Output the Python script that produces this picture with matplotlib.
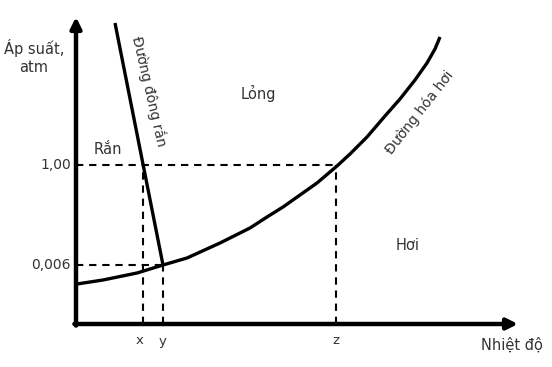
import matplotlib.pyplot as plt

# Phase diagram (schematic), units = arbitrary temperature / pressure
# vaporisation curve (duong hoa hoi)
vap_T = [1, 27, 61, 87, 111, 144, 174, 191, 207, 224, 241, 261, 274, 291, 309, 324, 339, 351, 359, 364]
vap_P = [40, 44, 51, 59, 66, 81, 96, 107, 117, 129, 141, 158, 170, 187, 208, 225, 244, 261, 275, 287]
# melting line (duong dong ran)
fus_T = [39, 87]
fus_P = [301, 59]

# marked temperatures and pressures
t_ticks = [67, 87, 260]
t_labels = ['x', 'y', 'z']
p_ticks = [59, 159]
p_labels = ['0,006', '1,00']

txt = '#333333'
font = 'DejaVu Sans'

fig = plt.figure(figsize=(5.52, 3.67), dpi=100)
ax = fig.add_axes([0, 0, 1, 1])
ax.set_xlim(-76, 476)
ax.set_ylim(-43, 324)
ax.axis('off')

dash = dict(color='black', lw=1.5, ls=(0, (3.5, 2.8)))
# dashed guides
ax.plot([0, t_ticks[2]], [p_ticks[1], p_ticks[1]], **dash)
ax.plot([t_ticks[2], t_ticks[2]], [0, p_ticks[1]], **dash)
ax.plot([0, t_ticks[1]], [p_ticks[0], p_ticks[0]], **dash)
ax.plot([t_ticks[1], t_ticks[1]], [0, p_ticks[0]], **dash)
ax.plot([t_ticks[0], t_ticks[0]], [0, p_ticks[1]], **dash)

# curves
ax.plot(vap_T, vap_P, color='black', lw=2.4, solid_joinstyle='round', solid_capstyle='butt')
ax.plot(fus_T, fus_P, color='black', lw=2.4, solid_capstyle='butt')

# axes with arrows
arr = dict(arrowstyle='-|>', color='black', lw=3.2, mutation_scale=16, shrinkA=0, shrinkB=0)
ax.annotate('', xy=(0, 307), xytext=(0, -1.6), arrowprops=arr)
ax.annotate('', xy=(442, 0), xytext=(-1.6, 0), arrowprops=arr)

# tick labels
for t, lab in zip(t_ticks, t_labels):
    ax.text(t - 3 if lab == 'x' else t, -17, lab, ha='center', va='center', fontsize=9.5, color=txt, family=font)
for p, lab in zip(p_ticks, p_labels):
    ax.text(-5, p, lab, ha='right', va='center', fontsize=10, color=txt, family=font)

# axis titles
ax.text(-42, 276, 'Áp suất,', ha='center', va='center', fontsize=10.5, color=txt, family=font)
ax.text(-42, 257, 'atm', ha='center', va='center', fontsize=10.5, color=txt, family=font)
ax.text(436, -21, 'Nhiệt độ', ha='center', va='center', fontsize=10.5, color=txt, family=font)

# region labels
ax.text(182, 231, 'Lỏng', ha='center', va='center', fontsize=10.5, color=txt, family=font)
ax.text(32, 174, 'Rắn', ha='center', va='center', fontsize=10.5, color=txt, family=font)
ax.text(332, 79, 'Hơi', ha='center', va='center', fontsize=10.5, color=txt, family=font)

# curve names
ax.text(73, 233, 'Đường đông rắn', ha='center', va='center', rotation=-77, fontsize=10, color=txt, family=font)
ax.text(344, 212, 'Đường hóa hơi', ha='center', va='center', rotation=52, fontsize=10, color=txt, family=font)

fig.savefig('out.png', dpi=100)
